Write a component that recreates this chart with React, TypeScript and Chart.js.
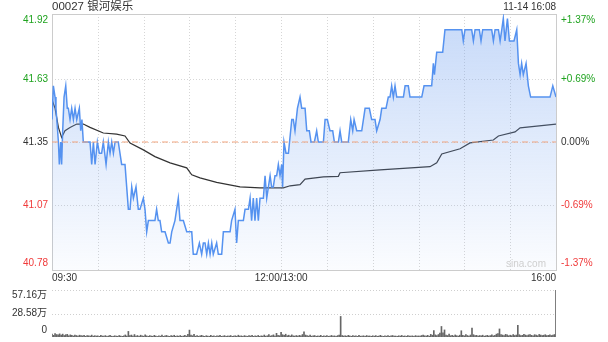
import React, { useEffect, useRef } from "react";
import { Chart, registerables } from "chart.js";
Chart.register(...registerables);

const titleText = "00027 银河娱乐";
const stampText = "11-14 16:08";
const watermark = "sina.com";
const prevClose = 41.35;
const priceMin = 40.78;
const priceMax = 41.92;
const priceTicks = [40.78, 41.07, 41.35, 41.63, 41.92];
const pctTicks = ["-1.37%", "-0.69%", "0.00%", "+0.69%", "+1.37%"];
const gridMinutes = [0, 30, 60, 90, 120, 150, 180, 210, 240, 270, 300, 330];
const timeTickMinutes = [0, 150, 330];
const timeTickLabels = ["09:30", "12:00/13:00", "16:00"];
const totalMinutes = 330;

const priceMinutes = [
  0, 0.9, 2.0, 2.6, 4.2, 4.8, 5.7, 6.3, 7.0, 7.9, 9.0, 10.0, 10.7, 11.8, 12.9, 14.0, 15.1, 16.2, 17.9, 18.8,
  19.6, 20.5, 24.9, 26.0, 27.1, 28.2, 29.7, 31.0, 32.5, 33.6, 35.4, 36.9, 38.0, 39.1, 40.2, 41.3, 43.4, 45.6, 47.8, 48.9,
  50.0, 51.1, 52.2, 53.3, 55.0, 56.5, 57.6, 59.8, 60.9, 62.0, 63.1, 67.4, 68.5, 69.6, 70.7, 71.8, 74.0, 76.2, 77.3, 78.4,
  80.5, 81.6, 82.7, 83.8, 86.0, 88.2, 91.5, 92.5, 94.7, 96.5, 98.0, 99.1, 100.2, 101.3, 102.4, 103.5, 104.6, 105.6, 107.8, 108.9,
  111.1, 112.2, 116.6, 117.6, 119.8, 120.9, 122.0, 125.3, 126.4, 128.6, 129.7, 130.7, 131.8, 132.9, 134.0, 135.1, 136.2, 138.4, 139.5, 140.6,
  142.8, 143.8, 144.9, 146.0, 147.1, 148.2, 149.3, 150.4, 151.0, 151.9, 153.2, 154.8, 157.0, 158.0, 159.1, 160.7, 162.4, 163.5, 165.7, 166.8,
  168.5, 169.6, 171.8, 173.3, 174.4, 177.7, 178.8, 180.3, 182.0, 183.8, 184.9, 187.5, 188.6, 189.7, 194.0, 195.6, 196.9, 197.8, 199.5, 202.8,
  205.0, 207.8, 209.3, 211.5, 212.6, 214.8, 215.9, 218.7, 220.2, 221.3, 222.4, 223.5, 224.6, 225.7, 230.1, 231.2, 233.3, 234.4, 242.1, 243.6,
  248.6, 249.7, 250.4, 251.9, 255.8, 257.3, 268.3, 269.3, 270.4, 274.8, 275.9, 277.0, 279.8, 280.9, 282.0, 287.9, 289.0, 290.1, 292.3, 293.4,
  294.5, 295.5, 296.6, 298.2, 299.5, 301.0, 302.5, 304.3, 305.4, 306.5, 307.5, 308.6, 310.4, 311.9, 313.4, 326.1, 327.9, 330.0,
];
const priceValues = [
  41.45, 41.60, 41.55, 41.50, 41.35, 41.25, 41.35, 41.25, 41.40, 41.55, 41.60, 41.50, 41.50, 41.45, 41.50, 41.45, 41.50, 41.45, 41.50, 41.40,
  41.45, 41.35, 41.35, 41.25, 41.35, 41.25, 41.35, 41.30, 41.30, 41.35, 41.25, 41.35, 41.30, 41.35, 41.30, 41.35, 41.35, 41.25, 41.25, 41.15,
  41.05, 41.05, 41.15, 41.10, 41.15, 41.05, 41.05, 41.10, 41.05, 40.95, 41.00, 41.00, 41.05, 41.00, 41.00, 40.95, 40.95, 40.90, 40.90, 40.95,
  41.00, 41.05, 41.10, 41.00, 41.00, 40.95, 40.95, 40.85, 40.85, 40.90, 40.85, 40.90, 40.90, 40.85, 40.90, 40.85, 40.90, 40.85, 40.90, 40.85,
  40.85, 40.95, 40.95, 41.00, 41.05, 40.90, 41.00, 41.00, 41.05, 41.05, 41.10, 41.00, 41.10, 41.00, 41.10, 41.00, 41.10, 41.10, 41.20, 41.10,
  41.20, 41.15, 41.15, 41.20, 41.20, 41.25, 41.20, 41.25, 41.15, 41.35, 41.30, 41.30, 41.45, 41.45, 41.40, 41.50, 41.55, 41.50, 41.50, 41.40,
  41.40, 41.35, 41.35, 41.40, 41.35, 41.35, 41.45, 41.45, 41.40, 41.40, 41.35, 41.35, 41.40, 41.35, 41.35, 41.45, 41.40, 41.45, 41.40, 41.40,
  41.50, 41.50, 41.45, 41.45, 41.40, 41.45, 41.50, 41.50, 41.55, 41.55, 41.60, 41.55, 41.60, 41.55, 41.55, 41.60, 41.60, 41.55, 41.55, 41.60,
  41.60, 41.70, 41.65, 41.75, 41.75, 41.85, 41.85, 41.80, 41.85, 41.85, 41.80, 41.85, 41.85, 41.80, 41.85, 41.85, 41.80, 41.85, 41.85, 41.80,
  41.85, 41.90, 41.80, 41.90, 41.80, 41.80, 41.80, 41.85, 41.70, 41.65, 41.70, 41.65, 41.70, 41.60, 41.55, 41.55, 41.60, 41.55,
];

const avgMinutes = [
  0, 2.0, 4.2, 6.3, 8.5, 11.8, 16.2, 20.5, 24.9, 33.6, 42.3, 47.8, 51.1, 59.8, 67.4, 77.3, 88.2, 91.5, 96.9, 107.8,
  123.1, 136.2, 151.5, 155.9, 162.4, 165.7, 177.7, 187.5, 188.6, 214.8, 247.5, 251.9, 255.2, 267.2, 273.7, 289.0, 292.3, 303.2, 306.5, 330.0,
];
const avgValues = [
  41.54, 41.50, 41.415, 41.37, 41.40, 41.415, 41.43, 41.43, 41.415, 41.39, 41.385, 41.377, 41.345, 41.315, 41.285, 41.257, 41.235, 41.204, 41.19, 41.17,
  41.15, 41.146, 41.146, 41.155, 41.16, 41.185, 41.195, 41.197, 41.213, 41.226, 41.24, 41.257, 41.297, 41.32, 41.346, 41.359, 41.377, 41.395, 41.413, 41.43,
];

// volume per minute, in 万 shares
const volumeValues = [
  3.5, 2.0, 4.2, 3.0, 2.5, 3.8, 2.2, 3.5, 1.8, 2.8, 3.2, 1.5, 2.6, 2.0, 1.2, 2.4, 1.8, 1.0, 2.2, 1.6, 1.4, 2.0, 0.9, 1.8, 1.5, 1.1, 2.3, 1.0, 1.6, 1.2,
  1.4, 0.8, 1.9, 1.2, 1.0, 1.7, 0.9, 1.3, 2.1, 1.0, 0.7, 1.5, 1.1, 0.9, 1.8, 1.2, 0.8, 1.4, 2.5, 1.0, 6.8, 1.6, 2.4, 1.2, 3.0, 1.1, 1.8, 0.9, 2.2, 1.3,
  1.0, 2.6, 1.4, 0.8, 1.7, 1.2, 0.9, 2.0, 1.1, 0.7, 1.5, 1.0, 2.3, 0.8, 1.3, 1.9, 1.0, 0.8, 1.6, 1.2, 2.1, 0.9, 1.4, 1.0, 1.8, 0.8, 1.2, 2.0, 1.1, 3.2,
  8.4, 2.2, 1.5, 3.1, 1.0, 1.8, 0.9, 1.4, 2.0, 1.2, 0.8, 1.6, 1.1, 0.9, 1.9, 1.0, 1.3, 0.7, 1.5, 1.2, 2.0, 0.8, 1.1, 1.7, 0.9, 1.3, 1.0, 1.8, 0.8, 1.2,
  1.5, 0.9, 2.2, 1.0, 1.4, 0.8, 1.7, 1.1, 0.9, 1.6, 1.2, 2.0, 0.8, 1.3, 1.0, 1.9, 0.9, 1.4, 1.1, 2.4, 1.0, 1.5, 3.0, 1.2, 1.8, 2.6, 1.1, 4.5, 2.0, 1.6,
  5.6, 2.8, 1.9, 3.4, 1.5, 2.2, 1.2, 2.6, 1.4, 1.0, 1.8, 1.2, 2.0, 1.5, 3.0, 6.2, 2.4, 1.6, 1.1, 2.2, 1.0, 1.5, 1.8, 0.9, 1.3, 1.1, 2.0, 0.8, 1.4, 1.0,
  1.6, 0.9, 1.2, 1.9, 1.0, 1.4, 0.8, 1.7, 2.2, 25.0, 1.8, 1.2, 1.5, 1.0, 2.0, 1.3, 0.9, 1.6, 1.1, 1.4, 0.8, 1.9, 1.0, 1.2, 1.5, 0.9, 1.8, 1.1, 1.3, 0.8,
  1.5, 1.0, 1.7, 0.9, 1.2, 2.0, 1.1, 0.8, 1.4, 1.0, 1.6, 0.9, 1.3, 1.8, 1.0, 1.2, 0.8, 1.5, 1.1, 1.9, 1.0, 1.3, 0.9, 1.6, 1.2, 1.0, 1.4, 0.8, 1.7, 1.1,
  1.3, 1.0, 1.8, 2.4, 1.5, 1.2, 2.0, 1.0, 3.2, 2.2, 7.8, 2.6, 1.6, 3.0, 4.8, 12.8, 5.0, 8.6, 2.2, 1.8, 3.4, 1.5, 2.0, 1.2, 2.5, 1.6, 1.1, 2.2, 7.6, 2.0,
  1.4, 3.0, 1.8, 1.2, 2.4, 10.8, 2.8, 1.6, 2.0, 1.1, 1.8, 1.3, 2.2, 1.0, 1.5, 2.0, 1.2, 1.7, 2.6, 1.4, 2.0, 3.5, 4.2, 9.8, 3.0, 2.4, 1.8, 3.2, 2.6, 1.5,
  2.2, 1.6, 3.0, 1.8, 2.4, 14.2, 2.8, 1.6, 2.0, 3.2, 2.4, 1.8, 2.6, 3.0, 2.0, 1.5, 2.8, 2.2, 1.6, 3.1, 2.4, 1.8, 2.2, 2.8, 1.6, 2.0, 2.5, 1.8, 2.2, 3.0,
  57.16,
];
const volumeTicks = [0, 28.58, 57.16];
const volumeTickLabels = ["0", "28.58万", "57.16万"];

const FONT = "Arial, 'Liberation Sans', 'Noto Sans CJK SC', sans-serif";
const GREEN = "#1fa31f";
const RED = "#f03a3a";
const DARK = "#333333";

function priceColor(v: number) {
  if (v > prevClose + 1e-9) return GREEN;
  if (v < prevClose - 1e-9) return RED;
  return DARK;
}

const mainDecor = {
  id: "mainDecor",
  beforeDatasetsDraw(chart: any) {
    const { ctx, chartArea: a, scales } = chart;
    ctx.save();
    ctx.strokeStyle = "#d6d6d6";
    ctx.lineWidth = 1;
    ctx.setLineDash([1, 2]);
    for (const m of gridMinutes) {
      const x = Math.round(scales.x.getPixelForValue(m)) + 0.5;
      ctx.beginPath();
      ctx.moveTo(x, a.top);
      ctx.lineTo(x, a.bottom);
      ctx.stroke();
    }
    for (const p of priceTicks) {
      const y = Math.round(scales.y.getPixelForValue(p)) + 0.5;
      ctx.beginPath();
      ctx.moveTo(a.left, y);
      ctx.lineTo(a.right, y);
      ctx.stroke();
    }
    ctx.setLineDash([]);
    ctx.strokeStyle = "#cccccc";
    ctx.strokeRect(Math.round(a.left) + 0.5, Math.round(a.top) + 0.5, Math.round(a.right - a.left), Math.round(a.bottom - a.top));
    ctx.restore();
  },
  afterDraw(chart: any) {
    const { ctx, chartArea: a, scales } = chart;
    ctx.save();
    ctx.textBaseline = "middle";
    // title & stamp
    ctx.font = `11.5px ${FONT}`;
    ctx.fillStyle = DARK;
    ctx.textAlign = "left";
    ctx.fillText(titleText, a.left, 7);
    ctx.font = `10px ${FONT}`;
    ctx.textAlign = "right";
    ctx.fillText(stampText, a.right, 7);
    // price labels
    priceTicks.forEach((p, i) => {
      let y = scales.y.getPixelForValue(p);
      y = Math.min(Math.max(y, a.top + 6), a.bottom - 7);
      ctx.fillStyle = priceColor(p);
      ctx.textAlign = "right";
      ctx.fillText(p.toFixed(2), a.left - 4, y);
      ctx.textAlign = "left";
      ctx.fillText(pctTicks[i], a.right + 5, y);
    });
    // time labels
    ctx.fillStyle = DARK;
    timeTickMinutes.forEach((m, i) => {
      const x = scales.x.getPixelForValue(m);
      ctx.textAlign = i === 0 ? "left" : i === timeTickMinutes.length - 1 ? "right" : "center";
      ctx.fillText(timeTickLabels[i], x, a.bottom + 8);
    });
    // watermark
    ctx.fillStyle = "#cfcfcf";
    ctx.textAlign = "right";
    ctx.fillText(watermark, a.right - 10, a.bottom - 6);
    ctx.restore();
  },
};

const volDecor = {
  id: "volDecor",
  beforeDatasetsDraw(chart: any) {
    const { ctx, chartArea: a, scales } = chart;
    ctx.save();
    ctx.strokeStyle = "#cfcfcf";
    ctx.lineWidth = 1;
    ctx.setLineDash([1, 2]);
    for (const v of volumeTicks) {
      if (v === 0) continue;
      const y = Math.round(scales.y.getPixelForValue(v)) + 0.5;
      ctx.beginPath();
      ctx.moveTo(a.left, y);
      ctx.lineTo(a.right, y);
      ctx.stroke();
    }
    ctx.restore();
  },
  afterDraw(chart: any) {
    const { ctx, chartArea: a, scales } = chart;
    ctx.save();
    ctx.font = `10px ${FONT}`;
    ctx.textBaseline = "middle";
    ctx.textAlign = "right";
    ctx.fillStyle = DARK;
    volumeTicks.forEach((v, i) => {
      let y = scales.y.getPixelForValue(v);
      y = Math.min(Math.max(y, a.top + 5), a.bottom - 7);
      ctx.fillText(volumeTickLabels[i], a.left - 5, y);
    });
    ctx.restore();
  },
};

export default function App() {
  const mainRef = useRef<HTMLCanvasElement>(null);
  const volRef = useRef<HTMLCanvasElement>(null);

  useEffect(() => {
    const priceData = priceMinutes.map((m, i) => ({ x: m, y: priceValues[i] }));
    const avgData = avgMinutes.map((m, i) => ({ x: m, y: avgValues[i] }));
    const closeData = [
      { x: 0, y: prevClose },
      { x: totalMinutes, y: prevClose },
    ];
    const main = new Chart(mainRef.current!, {
      type: "line",
      data: {
        datasets: [
          {
            data: closeData,
            borderColor: "#f2a57e",
            borderWidth: 1,
            borderDash: [6, 4],
            pointRadius: 0,
            fill: false,
          },
          {
            data: priceData,
            borderColor: "#5592f0",
            borderWidth: 1.5,
            pointRadius: 0,
            fill: "start",
            backgroundColor: (c: any) => {
              const ch = c.chart;
              const ar = ch.chartArea;
              if (!ar) return "rgba(120,165,240,0.2)";
              const g = ch.ctx.createLinearGradient(0, ar.top, 0, ar.bottom);
              g.addColorStop(0, "rgba(120,165,240,0.42)");
              g.addColorStop(1, "rgba(120,165,240,0.03)");
              return g;
            },
          },
          {
            data: avgData,
            borderColor: "#333333",
            borderWidth: 1.2,
            pointRadius: 0,
            fill: false,
          },
        ],
      },
      options: {
        animation: false,
        responsive: false,
        layout: { padding: { left: 52, right: 52, top: 14, bottom: 15 } },
        scales: {
          x: { type: "linear", min: 0, max: totalMinutes, display: false },
          y: { min: priceMin, max: priceMax, display: false },
        },
        elements: { line: { tension: 0 } },
        plugins: { legend: { display: false }, tooltip: { enabled: false } },
      },
      plugins: [mainDecor],
    } as any);

    const vol = new Chart(volRef.current!, {
      type: "bar",
      data: {
        datasets: [
          {
            data: volumeValues.map((v, i) => ({ x: i, y: v })),
            backgroundColor: "#666666",
            barThickness: 1,
          },
        ],
      },
      options: {
        animation: false,
        responsive: false,
        layout: { padding: { left: 52, right: 52, top: 5, bottom: 5 } },
        scales: {
          x: { type: "linear", min: 0, max: totalMinutes, display: false, offset: false },
          y: { min: 0, max: volumeTicks[volumeTicks.length - 1], display: false },
        },
        plugins: { legend: { display: false }, tooltip: { enabled: false } },
      },
      plugins: [volDecor],
    } as any);

    return () => {
      main.destroy();
      vol.destroy();
    };
  }, []);

  return (
    <div style={{ position: "fixed", left: 0, top: 0, width: 608, height: 342, background: "#fff" }}>
      <canvas ref={mainRef} width={608} height={285} style={{ position: "absolute", left: 0, top: 0, width: 608, height: 285 }} />
      <canvas ref={volRef} width={608} height={57} style={{ position: "absolute", left: 0, top: 285, width: 608, height: 57 }} />
    </div>
  );
}
